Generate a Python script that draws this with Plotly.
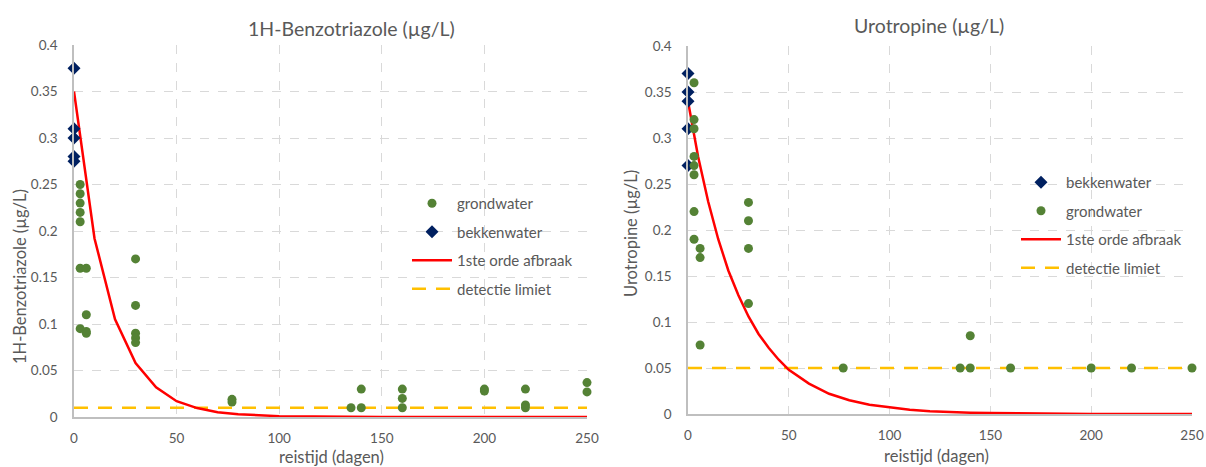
import plotly.graph_objects as go

# ---------------- data ----------------
# Left: 1H-Benzotriazole
bz_gw_days = [3, 3, 3, 3, 3, 3, 3, 6, 6, 6, 6, 30, 30, 30, 30, 30, 77, 77,
              135, 140, 140, 160, 160, 160, 200, 200, 220, 220, 220, 250, 250]
bz_gw_vals = [0.25, 0.24, 0.23, 0.22, 0.21, 0.16, 0.095, 0.16, 0.11, 0.092, 0.09,
              0.17, 0.12, 0.09, 0.085, 0.08, 0.019, 0.016,
              0.01, 0.03, 0.01, 0.03, 0.02, 0.01, 0.03, 0.028, 0.03, 0.013, 0.01, 0.037, 0.027]
bz_bk_days = [0, 0, 0, 0, 0]
bz_bk_vals = [0.375, 0.31, 0.30, 0.28, 0.275]
bz_fit_days = [0, 10, 20, 30, 40, 50, 60, 70, 80, 90, 100, 150, 200, 250]
bz_fit_vals = [0.35, 0.192, 0.105, 0.058, 0.032, 0.017, 0.0096, 0.0052, 0.0029, 0.0016,
               0.0009, 0.0001, 0.0, 0.0]
bz_det_days = [0, 250]
bz_det_vals = [0.01, 0.01]

# Right: Urotropine
ur_gw_days = [3, 3, 3, 3, 3, 3, 3, 3, 6, 6, 6, 30, 30, 30, 30, 77, 135, 140, 140, 160, 200, 220, 250]
ur_gw_vals = [0.36, 0.32, 0.31, 0.28, 0.27, 0.26, 0.22, 0.19, 0.18, 0.17, 0.075,
              0.23, 0.21, 0.18, 0.12, 0.05, 0.05, 0.05, 0.085, 0.05, 0.05, 0.05, 0.05]
ur_bk_days = [0, 0, 0, 0, 0]
ur_bk_vals = [0.37, 0.35, 0.34, 0.31, 0.27]
ur_fit_days = [0, 5, 10, 15, 20, 25, 30, 35, 40, 45, 50, 60, 70, 80, 90, 100, 110, 120,
               130, 140, 150, 175, 200, 250]
ur_fit_vals = [0.34, 0.28, 0.231, 0.19, 0.156, 0.129, 0.106, 0.087, 0.072, 0.059, 0.048,
               0.033, 0.022, 0.015, 0.010, 0.007, 0.0047, 0.0031, 0.0021, 0.0014, 0.001,
               0.0004, 0.0001, 0.0]
ur_det_days = [0, 250]
ur_det_vals = [0.05, 0.05]

y_ticks = [0, 0.05, 0.1, 0.15, 0.2, 0.25, 0.3, 0.35, 0.4]
y_tick_labels = ["0", "0.05", "0.1", "0.15", "0.2", "0.25", "0.3", "0.35", "0.4"]
x_ticks = [0, 50, 100, 150, 200, 250]

GREEN = "#548235"
NAVY = "#002060"
RED = "#FF0000"
ORANGE = "#FFC000"
TXT = "#595959"
FONT = "Lato"

W, H = 1206, 467
fig = go.Figure()

def add_panel(xa, ya, leg, gw_d, gw_v, bk_d, bk_v, fit_d, fit_v, det_d, det_v, ranks):
    fig.add_trace(go.Scatter(x=det_d, y=det_v, mode="lines", name="detectie limiet",
                             line=dict(color=ORANGE, width=2.5, dash="14px,10px"),
                             xaxis=xa, yaxis=ya, legend=leg, legendgroup=leg + "d",
                             legendrank=ranks[3]))
    fig.add_trace(go.Scatter(x=fit_d, y=fit_v, mode="lines", name="1ste orde afbraak",
                             line=dict(color=RED, width=2.5),
                             xaxis=xa, yaxis=ya, legend=leg, legendgroup=leg + "f",
                             legendrank=ranks[2]))
    fig.add_trace(go.Scatter(x=bk_d, y=bk_v, mode="markers", name="bekkenwater",
                             marker=dict(color=NAVY, symbol="diamond", size=10),
                             cliponaxis=False,
                             xaxis=xa, yaxis=ya, legend=leg, legendgroup=leg + "b",
                             legendrank=ranks[1]))
    fig.add_trace(go.Scatter(x=gw_d, y=gw_v, mode="markers", name="grondwater",
                             marker=dict(color=GREEN, symbol="circle", size=9),
                             cliponaxis=False,
                             xaxis=xa, yaxis=ya, legend=leg, legendgroup=leg + "g",
                             legendrank=ranks[0]))

add_panel("x", "y", "legend", bz_gw_days, bz_gw_vals, bz_bk_days, bz_bk_vals,
          bz_fit_days, bz_fit_vals, bz_det_days, bz_det_vals, [1, 2, 3, 4])
add_panel("x2", "y2", "legend2", ur_gw_days, ur_gw_vals, ur_bk_days, ur_bk_vals,
          ur_fit_days, ur_fit_vals, ur_det_days, ur_det_vals, [2, 1, 3, 4])

def xaxis_cfg(domain, anchor):
    return dict(domain=domain, anchor=anchor, range=[0, 250], tickvals=x_ticks,
                showgrid=True, gridcolor="#d9d9d9", griddash="dash", gridwidth=1,
                zeroline=False, showline=True, linecolor="#bfbfbf", linewidth=1.5,
                ticks="", ticklabelstandoff=8, automargin=False,
                tickfont=dict(family=FONT, size=13.5, color=TXT))

def yaxis_cfg(domain, anchor):
    return dict(domain=domain, anchor=anchor, range=[0, 0.4], tickvals=y_ticks,
                ticktext=y_tick_labels,
                showgrid=True, gridcolor="#d9d9d9", griddash="dash", gridwidth=1,
                zeroline=False, showline=True, linecolor="#bfbfbf", linewidth=1.5,
                ticks="", ticklabelstandoff=12, automargin=False,
                tickfont=dict(family=FONT, size=13.5, color=TXT))

left_x = [74 / W, 587 / W]
left_y = [(H - 417) / H, (H - 45) / H]
right_x = [688 / W, 1192 / W]
right_y = [(H - 414) / H, (H - 46) / H]

legend_common = dict(font=dict(family=FONT, size=15, color=TXT), bgcolor="rgba(255,255,255,0)",
                     traceorder="grouped", tracegroupgap=6, xanchor="left", yanchor="top",
                     itemwidth=40)

def ann(text, x, y, size, angle=0):
    return dict(text=text, x=x / W, y=(H - y) / H, xref="paper", yref="paper",
                xanchor="center", yanchor="middle", showarrow=False, textangle=angle,
                font=dict(family=FONT, size=size, color=TXT))

fig.update_layout(
    width=W, height=H, margin=dict(l=0, r=0, t=0, b=0, autoexpand=False),
    paper_bgcolor="white", plot_bgcolor="white",
    xaxis=xaxis_cfg(left_x, "y"), yaxis=yaxis_cfg(left_y, "x"),
    xaxis2=xaxis_cfg(right_x, "y2"), yaxis2=yaxis_cfg(right_y, "x2"),
    legend=dict(x=407 / W, y=(H - 187) / H, **legend_common),
    legend2=dict(x=1016 / W, y=(H - 166) / H, **legend_common),
    annotations=[
        ann("1H-Benzotriazole (µg/L)", 351, 28, 19.5),
        ann("Urotropine (µg/L)", 929, 26, 19.5),
        ann("reistijd (dagen)", 331, 457, 16.5),
        ann("reistijd (dagen)", 936, 456, 16.5),
        ann("1H-Benzotriazole (µg/L)", 20, 277, 16.5, -90),
        ann("Urotropine (µg/L)", 631, 234, 16.5, -90),
    ],
)

fig.write_html("out.html")
